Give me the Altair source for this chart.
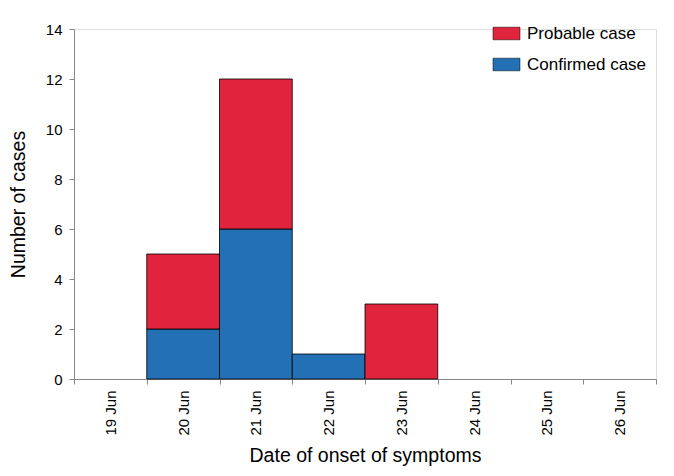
import altair as alt
import pandas as pd

dates = ["19 Jun", "20 Jun", "21 Jun", "22 Jun", "23 Jun", "24 Jun", "25 Jun", "26 Jun"]
confirmed = [0, 2, 6, 1, 0, 0, 0, 0]
probable = [0, 3, 6, 0, 3, 0, 0, 0]
series = ["Probable case", "Confirmed case"]
colors = ["#E0243E", "#2470B5"]
y_ticks = [0, 2, 4, 6, 8, 10, 12, 14]

rows = []
for d, c, p in zip(dates, confirmed, probable):
    if c > 0:
        rows.append({"date": d, "type": "Confirmed case", "n": c, "ord": 0})
    if p > 0:
        rows.append({"date": d, "type": "Probable case", "n": p, "ord": 1})
df = pd.DataFrame(rows)

FONT = "Liberation Sans"

chart = alt.Chart(df).mark_bar(stroke="black", strokeWidth=0.8).encode(
    x=alt.X("date:N", sort=dates,
            scale=alt.Scale(domain=dates, paddingInner=0, paddingOuter=0),
            axis=alt.Axis(title="Date of onset of symptoms", labelAngle=-90,
                          labelAlign="right", labelBaseline="middle",
                          labelPadding=6, tickSize=5, tickBand="extent",
                          titlePadding=11, titleFontSize=19.5, labelFontSize=15,
                          titleFontWeight="normal")),
    y=alt.Y("n:Q", stack="zero",
            scale=alt.Scale(domain=[0, 14], nice=False),
            axis=alt.Axis(title="Number of cases", values=y_ticks, tickSize=5,
                          labelPadding=7, grid=False, titlePadding=17,
                          titleFontSize=19.5, labelFontSize=15,
                          titleFontWeight="normal")),
    color=alt.Color("type:N", scale=alt.Scale(domain=series, range=colors),
                    legend=alt.Legend(title=None, orient="none", legendX=423, legendY=-5,
                                      symbolType="M-1.5,-0.7H1.5V0.7H-1.5Z",
                                      symbolSize=324, symbolStrokeColor="black",
                                      symbolStrokeWidth=0.5, symbolOpacity=1,
                                      labelFontSize=17, rowPadding=13,
                                      labelOffset=11)),
    order=alt.Order("ord:Q"),
).properties(
    width=582, height=350,
    autosize=alt.AutoSizeParams(type="none"),
    padding={"left": 66, "top": 21, "right": 10, "bottom": 89},
).configure_view(stroke=None).configure_axis(
    domainColor="#888888", tickColor="#888888", labelColor="black",
    titleColor="black", labelFont=FONT, titleFont=FONT
).configure_legend(labelFont=FONT, labelColor="black").configure(background="white")

chart.save("out.html", embed_options={"renderer": "svg", "actions": False})
